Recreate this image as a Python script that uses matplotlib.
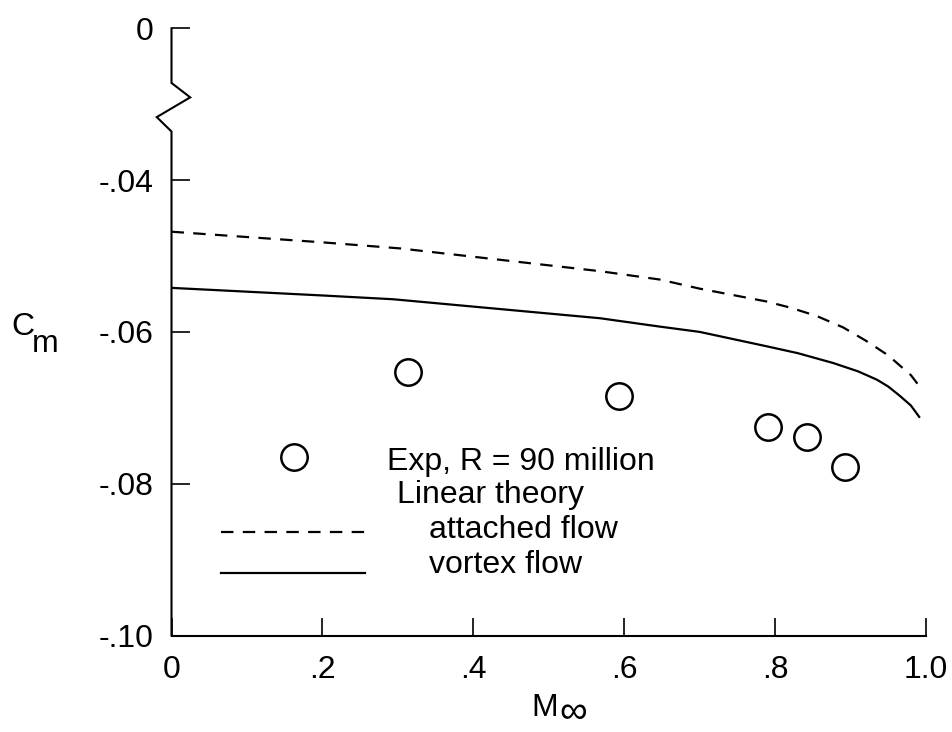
import matplotlib
matplotlib.use("Agg")
import matplotlib.pyplot as plt

plt.rcParams['font.family'] = ['Liberation Sans', 'DejaVu Sans']

# Experimental pitching-moment data, R = 90 million
exp_mach = [0.314, 0.593, 0.791, 0.842, 0.893]
exp_cm = [-0.0653, -0.0685, -0.0725, -0.0739, -0.0778]

# Linear theory, attached flow
att_mach = [0.0, 0.10, 0.20, 0.303, 0.568, 0.647, 0.700, 0.789, 0.82, 0.855,
            0.89, 0.921, 0.95, 0.965, 0.98, 0.990]
att_cm = [-0.0468, -0.0475, -0.0482, -0.0490, -0.0520, -0.0531, -0.0543, -0.0560,
          -0.0568, -0.0579, -0.0594, -0.0612, -0.0631, -0.0644, -0.0657, -0.0670]

# Linear theory, vortex flow
vor_mach = [0.0, 0.10, 0.20, 0.294, 0.568, 0.647, 0.700, 0.789, 0.83, 0.877,
            0.91, 0.935, 0.95, 0.965, 0.98, 0.991]
vor_cm = [-0.0542, -0.0547, -0.0552, -0.0557, -0.0582, -0.0593, -0.0600, -0.0619,
          -0.0628, -0.0641, -0.0652, -0.0663, -0.0672, -0.0684, -0.0697, -0.0712]

x_ticks = [0.0, 0.2, 0.4, 0.6, 0.8, 1.0]
x_labels = ['0', '.2', '.4', '.6', '.8', '1.0']
# the top tick stands for 0 beyond the axis break
y_ticks = [-0.10, -0.08, -0.06, -0.04, -0.02]
y_labels = ['-.10', '-.08', '-.06', '-.04', '0']

W, H = 953, 732
fig = plt.figure(figsize=(W / 100, H / 100), dpi=100)
ax = fig.add_axes([171.5 / W, 1 - 635.5 / H, 754.5 / W, 607.2 / H])
ax.set_xlim(0, 1.0)
ax.set_ylim(-0.10, -0.02)

FS = 23
dash = (0, (5.6, 4.2))
ax.plot(att_mach, att_cm, color='black', lw=1.6, linestyle=dash)
ax.plot(vor_mach, vor_cm, color='black', lw=1.6)
ax.plot(exp_mach, exp_cm, linestyle='none', marker='o', ms=19, mfc='white',
        mec='black', mew=1.8)

for s in ['top', 'right', 'left']:
    ax.spines[s].set_visible(False)
ax.spines['bottom'].set_linewidth(1.5)

# left axis with a break symbol
xs = [0, 0, 0.0248, -0.0195, 0, 0]
ys = [-0.02, -0.0272, -0.0291, -0.0317, -0.0336, -0.10]
ax.plot(xs, ys, color='black', lw=1.5, clip_on=False, solid_joinstyle='miter')

ax.set_xticks(x_ticks)
ax.set_xticklabels(x_labels)
ax.set_yticks(y_ticks)
ax.set_yticklabels(y_labels)
ax.tick_params(axis='both', direction='in', length=13, width=1.2, labelsize=FS)
ax.tick_params(axis='x', pad=14)
ax.tick_params(axis='y', pad=13)

# axis titles
fig.text(11 / W, 1 - 327 / H, 'C', fontsize=FS, ha='left', va='center')
fig.text(32 / W, 1 - 344 / H, 'm', fontsize=FS, ha='left', va='center')
fig.text(531 / W, 1 - 716 / H, 'M', fontsize=FS, ha='left', va='baseline')
fig.text(559 / W, 1 - 723 / H, '\u221e', fontsize=FS + 5, ha='left', va='baseline')

# legend
t = ax.transAxes
ax.plot([0.162], [0.2935], transform=t, marker='o', ms=19, mfc='white',
        mec='black', mew=1.8, clip_on=False)
ax.plot([0.0652, 0.2565], [0.170, 0.170], transform=t, color='black', lw=1.6,
        linestyle=dash)
ax.plot([0.0652, 0.2565], [0.1024, 0.1024], transform=t, color='black', lw=1.6)


def ax_pt(px, py):
    return (px - 171.5) / 754.5, (635.5 - py) / 607.2


for txt, (px, py) in [('Exp, R = 90 million', (387, 470)),
                      ('Linear theory', (397, 503)),
                      ('attached flow', (429, 538)),
                      ('vortex flow', (429, 573))]:
    x, y = ax_pt(px, py)
    ax.text(x, y, txt, transform=t, fontsize=FS, ha='left', va='baseline')

fig.savefig('out.png', dpi=100, facecolor='white')
